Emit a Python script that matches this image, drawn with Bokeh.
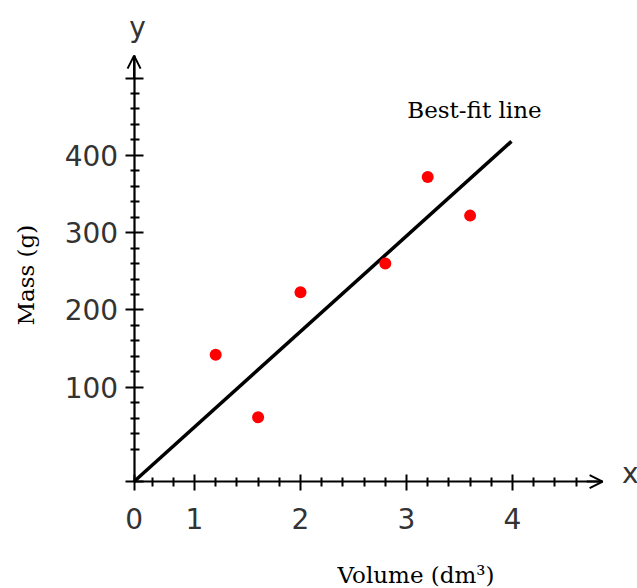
import math
from bokeh.plotting import figure
from bokeh.models import (Range1d, FixedTicker, Label, Arrow, OpenHead)
from bokeh.embed import file_html
from bokeh.resources import INLINE

# ---- data ----
volume = [1.2, 1.6, 2.0, 2.8, 3.2, 3.6]
mass = [142, 61, 223, 260, 372, 322]
fit_x = [0.43, 3.99]
fit_y = [-22, 418]

x_origin = 0.43
y_origin = -22
x_end = 4.85
y_end = 529

x_major = [0.43, 1, 2, 3, 4]
x_major_labels = ["0", "1", "2", "3", "4"]
x_minor = [0.6, 0.8, 1.2, 1.4, 1.6, 1.8, 2.2, 2.4, 2.6, 2.8, 3.2, 3.4, 3.6, 3.8,
           4.2, 4.4, 4.6]
y_major = [-22, 100, 200, 300, 400, 500]
y_major_labels = ["", "100", "200", "300", "400", ""]
y_minor = [20, 40, 60, 80, 120, 140, 160, 180, 220, 240, 260, 280, 320, 340, 360,
           380, 420, 440, 460, 480]

# visible window in data units (frame fills the canvas)
x_lo, x_hi = -0.830, 5.179
y_lo, y_hi = -160.4, 600.3

p = figure(width=637, height=588, output_backend="svg", toolbar_location=None,
           x_range=Range1d(x_lo, x_hi), y_range=Range1d(y_lo, y_hi),
           min_border=0)
p.outline_line_color = None
p.xgrid.visible = False
p.ygrid.visible = False
p.background_fill_color = "white"
p.border_fill_color = "white"

# x axis
xa = p.xaxis[0]
xa.fixed_location = y_origin
xa.bounds = (x_origin, x_end)
xa.ticker = FixedTicker(ticks=x_major, minor_ticks=x_minor)
xa.major_label_overrides = {t: l for t, l in zip(x_major, x_major_labels)}
xa.axis_line_width = 2.2
xa.axis_line_color = "black"
xa.major_tick_in = 7
xa.major_tick_out = 9
xa.minor_tick_in = 4
xa.minor_tick_out = 5
xa.major_tick_line_width = 2
xa.minor_tick_line_width = 2
xa.major_tick_line_color = "black"
xa.minor_tick_line_color = "black"
xa.major_label_standoff = 17
xa.major_label_text_font = "DejaVu Sans"
xa.major_label_text_font_size = "28px"
xa.major_label_text_color = "#333333"

# y axis
ya = p.yaxis[0]
ya.fixed_location = x_origin
ya.bounds = (y_origin, y_end)
ya.ticker = FixedTicker(ticks=y_major, minor_ticks=y_minor)
ya.major_label_overrides = {t: l for t, l in zip(y_major, y_major_labels)}
ya.axis_line_width = 2.2
ya.axis_line_color = "black"
ya.major_tick_in = 9
ya.major_tick_out = 9
ya.minor_tick_in = 5
ya.minor_tick_out = 4
ya.major_tick_line_width = 2
ya.minor_tick_line_width = 2
ya.major_tick_line_color = "black"
ya.minor_tick_line_color = "black"
ya.major_label_standoff = 7
ya.major_label_text_font = "DejaVu Sans"
ya.major_label_text_font_size = "28px"
ya.major_label_text_color = "#333333"

# best-fit line and points
p.line(fit_x, fit_y, line_width=3.5, line_color="black")
p.scatter(volume, mass, size=12, fill_color="#ff0000", line_color=None)

# arrow heads on axes
p.add_layout(Arrow(end=OpenHead(size=13, line_width=2, line_color="black"),
                   x_start=4.7, y_start=y_origin, x_end=x_end, y_end=y_origin,
                   line_width=2, line_color="black"))
p.add_layout(Arrow(end=OpenHead(size=13, line_width=2, line_color="black"),
                   x_start=x_origin, y_start=500, x_end=x_origin, y_end=y_end,
                   line_width=2, line_color="black"))

# texts
p.add_layout(Label(x=3.007, y=459, text="Best-fit line", text_font="DejaVu Serif",
                   text_font_size="23px", text_color="black",
                   text_align="left", text_baseline="alphabetic"))
p.add_layout(Label(x=3.09, y=-143, text="Volume (dm³)", text_font="DejaVu Serif",
                   text_font_size="23px", text_color="black",
                   text_align="center", text_baseline="middle"))
p.add_layout(Label(x=-0.585, y=245, text="Mass (g)", text_font="DejaVu Serif",
                   text_font_size="23px", text_color="black", angle=math.pi / 2,
                   text_align="center", text_baseline="middle"))
p.add_layout(Label(x=5.11, y=-12, text="x", text_font="DejaVu Sans",
                   text_font_size="28px", text_color="#333333",
                   text_align="center", text_baseline="middle"))
p.add_layout(Label(x=0.462, y=566, text="y", text_font="DejaVu Sans",
                   text_font_size="28px", text_color="#333333",
                   text_align="center", text_baseline="middle"))

open("out.html", "w").write(file_html(p, INLINE))
